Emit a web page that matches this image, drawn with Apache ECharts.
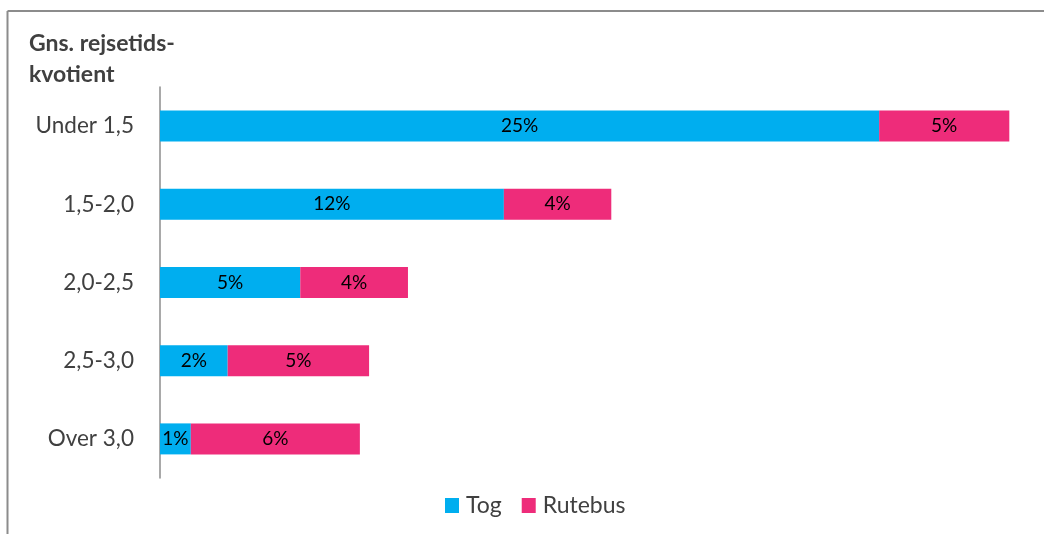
<!DOCTYPE html>
<html>
<head>
<meta charset="utf-8">
<style>
  html, body { margin: 0; padding: 0; background: #fff; }
  #chart { width: 1044px; height: 534px; }
</style>
<script src="https://cdn.jsdelivr.net/npm/echarts@6/dist/echarts.min.js"></script>
</head>
<body>
<div id="chart"></div>
<script>
// Average travel-time ratio bands and the share of trips by train and bus (%)
const categories = ['Under 1,5', '1,5-2,0', '2,0-2,5', '2,5-3,0', 'Over 3,0'];
const togValues = [24.97, 11.94, 4.87, 2.35, 1.07];
const rutebusValues = [4.52, 3.73, 3.74, 4.91, 5.87];
const seriesNames = ['Tog', 'Rutebus'];
const axisTitle = 'Gns. rejsetids-\nkvotient';

const FONT = 'Lato, "Open Sans", sans-serif';
const chart = echarts.init(document.getElementById('chart'), null, { renderer: 'canvas' });

// Data labels show the share rounded to whole percent
const barLabel = {
  show: true,
  position: 'inside',
  color: '#000',
  fontFamily: FONT,
  fontSize: 19,
  formatter: p => Math.round(p.value) + '%'
};

chart.setOption({
  animation: false,
  backgroundColor: '#fff',
  title: {
    text: axisTitle,
    left: 24,
    top: 23,
    textStyle: { fontFamily: FONT, fontSize: 23, fontWeight: 'bold', color: '#404040', lineHeight: 31 }
  },
  legend: {
    data: seriesNames,
    top: 489,
    left: 440,
    itemWidth: 14,
    itemHeight: 15,
    itemGap: 20,
    icon: 'rect',
    textStyle: { fontFamily: FONT, fontSize: 23, color: '#404040', padding: [0, 0, 0, 2] }
  },
  grid: { left: 160, right: 20, top: 87, bottom: 56, containLabel: false },
  xAxis: {
    type: 'value',
    min: 0,
    max: 30,
    show: false,
    splitLine: { show: false }
  },
  yAxis: {
    type: 'category',
    data: categories,
    inverse: true,
    axisLine: { show: true, lineStyle: { color: '#8c8c8c', width: 1.5 } },
    axisTick: { show: false },
    axisLabel: { margin: 26, fontFamily: FONT, fontSize: 22.5, color: '#404040' }
  },
  graphic: [
    { type: 'line', shape: { x1: 7.5, y1: 11, x2: 7.5, y2: 534 }, style: { stroke: '#8c8c8c', lineWidth: 2 } },
    { type: 'line', shape: { x1: 7.5, y1: 11, x2: 1044, y2: 11 }, style: { stroke: '#8c8c8c', lineWidth: 2 } }
  ],
  series: [
    {
      name: seriesNames[0],
      type: 'bar',
      stack: 'share',
      data: togValues,
      barWidth: 31,
      itemStyle: { color: '#00AEEF' },
      label: barLabel
    },
    {
      name: seriesNames[1],
      type: 'bar',
      stack: 'share',
      data: rutebusValues,
      barWidth: 31,
      itemStyle: { color: '#EE2C7A' },
      label: barLabel
    }
  ]
});
</script>
</body>
</html>
